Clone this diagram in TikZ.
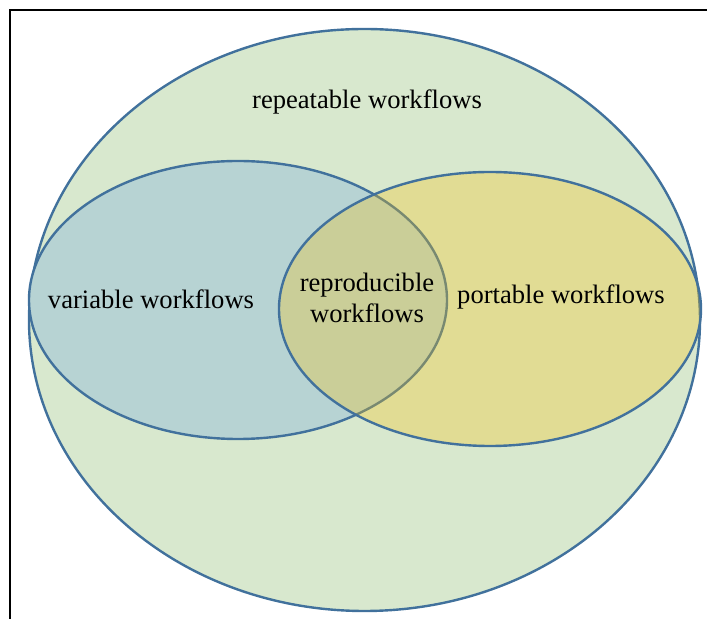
\documentclass[tikz,border=0pt]{standalone}
\usepackage{fontspec}
\setmainfont{Liberation Serif}
\usepackage{tikz}
\usetikzlibrary{positioning}
\definecolor{xline}{HTML}{41719C}
\definecolor{xgreen}{HTML}{D8E8CE}
\definecolor{xblue}{HTML}{B7D3D3}
\definecolor{xyellow}{HTML}{F9C310}
\tikzset{
  setline/.style = {draw=xline, line width=1.2pt},
  setfill/.style = {setline, fill=#1},
  setlabel/.style = {font=\fontsize{13.3}{15.5}\selectfont, align=center, inner sep=0pt},
}

\begin{document}
\begin{tikzpicture}[x=0.5pt, y=-0.5pt]
			\useasboundingbox (0,0) rectangle (707,619);
			\draw[line width=1.4pt, black] (10,619) -- (10,10) -- (707,10);
			\draw[setfill={xgreen}] (364.5,320) ellipse [x radius=335.5, y radius=291];
			\draw[setfill={xblue}] (238,300) ellipse [x radius=209, y radius=139];
			\fill[xyellow, fill opacity=0.3] (490,309) ellipse [x radius=211, y radius=137];
			\draw[setline] (490,309) ellipse [x radius=211, y radius=137];
			\node[setlabel] (repeatable) at (367,102) {repeatable workflows};
			\node[setlabel] (variable) at (151,299) {variable workflows};
			\node[setlabel] (reproducible) at (367,298) {reproducible\\workflows};
			\node[setlabel] (portable) at (561,297) {portable workflows};
		\end{tikzpicture}
\end{document}
